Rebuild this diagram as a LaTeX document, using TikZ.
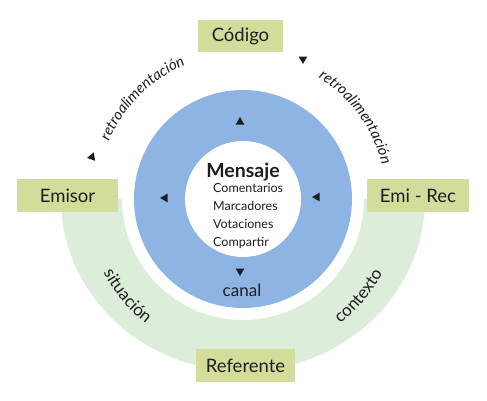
\documentclass[tikz,border=0pt]{standalone}
\usepackage{fontspec}
\setmainfont{Lato}
\usetikzlibrary{decorations.text}
\definecolor{boxfill}{RGB}{212,220,156}
\definecolor{ringblue}{RGB}{142,180,227}
\definecolor{ringgreen}{RGB}{220,237,217}
\definecolor{ink}{RGB}{30,30,30}
\tikzset{
  x=1pt,y=1pt,
  labelbox/.style={fill=boxfill, text=ink, inner sep=0pt, minimum height=33pt, font=\fontsize{18.5}{18.5}\selectfont},
  tri/.pic={\fill[ink] (0:5) -- (120:5) -- (240:5) -- cycle;},
  arctext/.style={decorate, decoration={text along path, text align=center, text color=ink}},
}
\begin{document}
\begin{tikzpicture}
\useasboundingbox (0,0) rectangle (487,-400);
\coordinate (c) at (243,-199);
% green half ring
\fill[ringgreen] (c) ++(180:182 and 172) arc[start angle=180, end angle=360, x radius=182, y radius=172]
  -- ++(-61,0) arc[start angle=360, end angle=180, radius=121] -- cycle;
% blue ring
\fill[ringblue] (c) circle (109);
\fill[white] (c) circle (58);
% boxes
\node[labelbox, minimum width=101pt] (emisor) at (67.5,-195.5) {Emisor};
\node[labelbox, minimum width=102pt] (emirec) at (418,-195.5) {Emi - Rec};
\node[labelbox, minimum width=85pt, minimum height=32pt] (codigo) at (240.5,-36) {Código};
\node[labelbox, minimum width=99pt] (referente) at (245.5,-365.5) {Referente};
% center text
\node[text=ink, font=\bfseries\fontsize{19.5}{19.5}\selectfont] (mensaje) at (243,-172) {Mensaje};
\node[text=ink, font=\fontsize{12.5}{18.2}\selectfont, align=left, anchor=north west, inner sep=0pt] (items) at (213,-183) {Comentarios\\Marcadores\\Votaciones\\Compartir};
\node[text=ink, font=\fontsize{17}{17}\selectfont] (canal) at (242,-290) {canal};
% triangles in blue ring
\pic[rotate=90] at (240,-122) {tri};
\pic[rotate=180] at (165,-198) {tri};
\pic[rotate=180] at (317,-197) {tri};
\pic[rotate=270] at (240,-271) {tri};
% feedback triangles
\pic[rotate=190] at (92,-157) {tri};
\pic[rotate=270] at (303,-59) {tri};
% arc texts
\path[arctext, decoration={text={|\itshape\fontsize{15}{15}\selectfont|retroalimentación}}]
  (c) ++(165:146) arc[start angle=165, end angle=105, radius=146];
\path[arctext, decoration={text={|\itshape\fontsize{15}{15}\selectfont|retroalimentación}}]
  (c) ++(66:143) arc[start angle=66, end angle=6, radius=143];
\path[arctext, decoration={text={|\fontsize{17}{17}\selectfont|situación}}]
  (c) ++(190:158) arc[start angle=190, end angle=250, radius=158];
\path[arctext, decoration={text={|\fontsize{17}{17}\selectfont|contexto}}]
  (c) ++(290:158) arc[start angle=290, end angle=350, radius=158];
\end{tikzpicture}
\end{document}
